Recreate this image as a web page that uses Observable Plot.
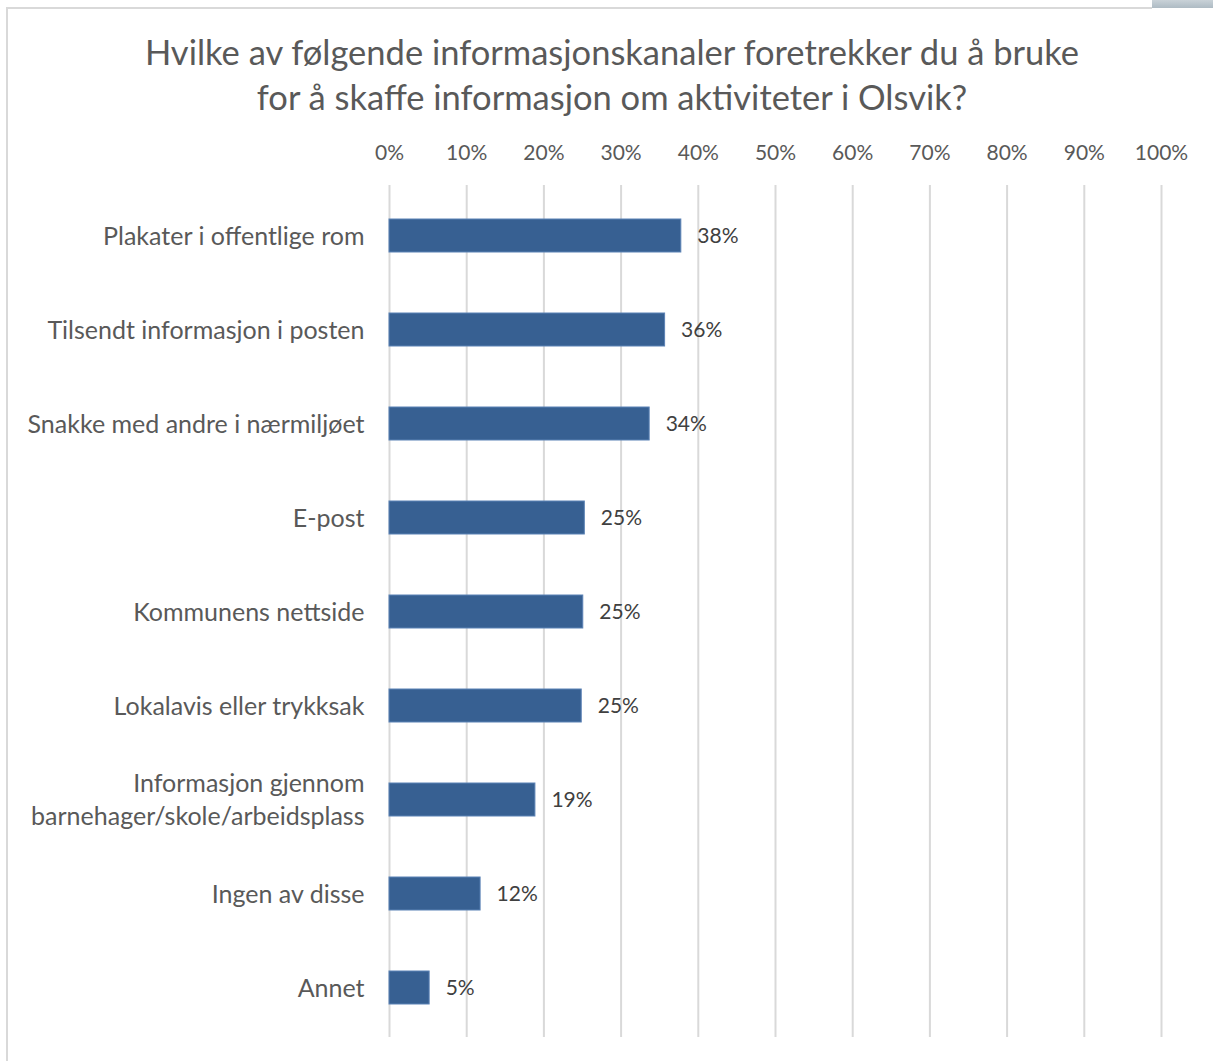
<!DOCTYPE html>
<html>
<head>
<meta charset="utf-8">
<script src="https://cdn.jsdelivr.net/npm/d3@7"></script>
<script src="https://cdn.jsdelivr.net/npm/@observablehq/plot@0.6"></script>
<style>
  html, body { margin: 0; padding: 0; background: #fff; }
  #wrap { position: relative; width: 1213px; height: 1061px; overflow: hidden; font-family: Lato, "Open Sans", sans-serif; }
  #borderTop { position: absolute; left: 7px; top: 7px; width: 1145px; height: 0; border-top: 2px solid #d9d9d9; }
  #borderLeft { position: absolute; left: 6px; top: 7px; width: 0; height: 1054px; border-left: 2px solid #d9d9d9; }
  #corner { position: absolute; left: 1152px; top: 0; width: 61px; height: 8px; background: linear-gradient(#c9d2d8, #aebbc4); }
  #title { position: absolute; left: 0; top: 29px; width: 1224px; text-align: center; font-size: 34.5px; line-height: 45px; color: #595959; }
  #chart { position: absolute; left: 0; top: 120px; }
</style>
</head>
<body>
<div id="wrap">
  <div id="borderTop"></div>
  <div id="borderLeft"></div>
  <div id="corner"></div>
  <div id="title">Hvilke av følgende informasjonskanaler foretrekker du å bruke<br>for å skaffe informasjon om aktiviteter i Olsvik?</div>
  <div id="chart"></div>
</div>
<script>
const categories = [
  "Plakater i offentlige rom",
  "Tilsendt informasjon i posten",
  "Snakke med andre i nærmiljøet",
  "E-post",
  "Kommunens nettside",
  "Lokalavis eller trykksak",
  "Informasjon gjennom\nbarnehager/skole/arbeidsplass",
  "Ingen av disse",
  "Annet"
];
const values = [37.8, 35.7, 33.7, 25.3, 25.1, 24.9, 18.9, 11.8, 5.2];
const tickValues = [0, 10, 20, 30, 40, 50, 60, 70, 80, 90, 100];

const data = categories.map((c, i) => ({category: c, value: values[i]}));

const chart = Plot.plot({
  width: 1213,
  height: 941,
  marginLeft: 389,
  marginRight: 52,
  marginTop: 65,
  marginBottom: 24,
  style: {fontFamily: "Lato, 'Open Sans', sans-serif", background: "transparent"},
  x: {domain: [0, 100], ticks: tickValues},
  y: {domain: categories, paddingInner: 0.65, paddingOuter: 0.325},
  marks: [
    Plot.ruleX(tickValues, {stroke: "#d9d9d9", strokeWidth: 2, strokeOpacity: 1}),
    Plot.axisX(tickValues, {anchor: "top", tickSize: 0, tickPadding: 26, fontSize: 21, fill: "#595959", tickFormat: d => d + "%", label: null}),
    Plot.axisY({tickSize: 0, tickPadding: 25, fontSize: 25, lineHeight: 1.32, fill: "#595959", label: null, dy: -2}),
    Plot.barX(data, {x: "value", y: "category", fill: "#376092", stroke: "#5b82b5", strokeWidth: 1}),
    Plot.text(data, {x: "value", y: "category", text: d => Math.round(d.value) + "%", textAnchor: "start", dx: 16, fontSize: 21, fill: "#404040"})
  ]
});
document.getElementById("chart").appendChild(chart);
</script>
</body>
</html>
